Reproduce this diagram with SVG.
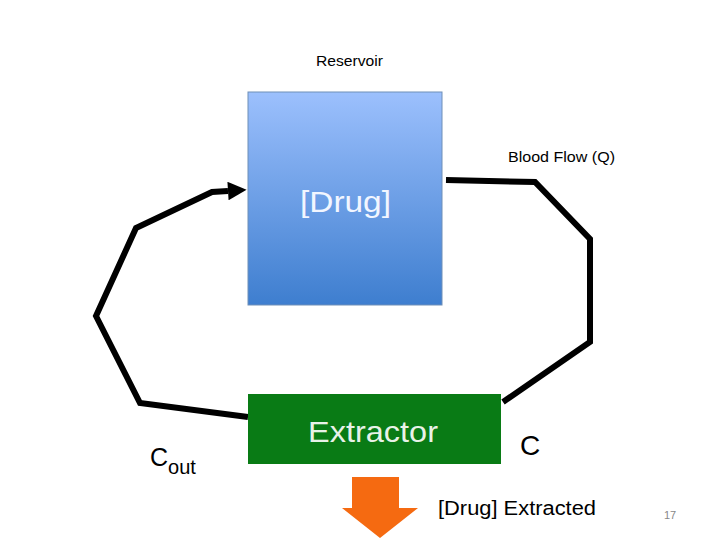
<svg xmlns="http://www.w3.org/2000/svg" width="720" height="540" viewBox="0 0 720 540">
<style>
text{font-family:"Liberation Sans","Open Sans",sans-serif}
.conn{fill:none;stroke:#000;stroke-width:6;stroke-linejoin:miter}
.lbl{fill:#000}
</style>
<defs>
<linearGradient id="blue" x1="0" y1="0" x2="0" y2="1">
<stop offset="0" stop-color="#9cc0fd"/>
<stop offset="1" stop-color="#3e7ecf"/>
</linearGradient>
<marker id="arr" viewBox="0 0 10 10" refX="0" refY="5" markerWidth="3.3" markerHeight="3.1" orient="auto" markerUnits="strokeWidth">
<path d="M0,0 L10,5 L0,10 z" fill="#000"/>
</marker>
</defs>
<rect width="720" height="540" fill="#fff"/>
<g id="connectors">
<polyline class="conn" points="248,417 140,403 96,316 136,228 212,192 228,191" marker-end="url(#arr)"/>
<polyline class="conn" points="446,180 535,182 590,239 590,342 503,402" stroke-linecap="butt"/>
</g>
<g id="reservoir">
<rect x="248" y="92" width="194" height="213" fill="url(#blue)" stroke="#6f8fb8" stroke-width="1"/>
<text x="300" y="212" font-size="29" fill="#f2f6ff" textLength="91" lengthAdjust="spacingAndGlyphs">[Drug]</text>
</g>
<g id="reservoir-label"><text x="316" y="66" font-size="14" class="lbl" textLength="67" lengthAdjust="spacingAndGlyphs">Reservoir</text></g>
<g id="flow-label"><text x="508" y="162" font-size="14" class="lbl" textLength="107" lengthAdjust="spacingAndGlyphs">Blood Flow (Q)</text></g>
<g id="extractor">
<rect x="248" y="394" width="253" height="70" fill="#097b15"/>
<text x="308" y="442" font-size="29" fill="#e8f2e8" textLength="130" lengthAdjust="spacingAndGlyphs">Extractor</text>
</g>
<g id="c-label"><text x="520" y="455" font-size="28" class="lbl">C</text></g>
<g id="cout-label"><text x="150" y="466" font-size="25" class="lbl">C<tspan font-size="20" dy="8">out</tspan></text></g>
<g id="extract-arrow">
<polygon points="352,477 399,477 399,508 418,508 380,538 342,508 352,508" fill="#f56a11"/>
</g>
<g id="extracted-label"><text x="438" y="515" font-size="20" class="lbl" textLength="158" lengthAdjust="spacingAndGlyphs">[Drug] Extracted</text></g>
<g id="page-num"><text x="664" y="519" font-size="11" fill="#888">17</text></g>
</svg>
